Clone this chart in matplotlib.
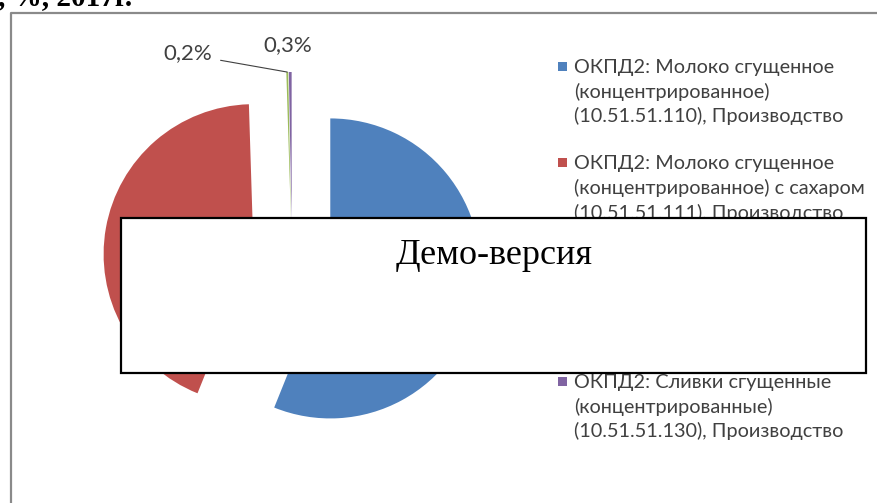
import matplotlib
matplotlib.use("Agg")
import matplotlib.pyplot as plt
from matplotlib.patches import Rectangle
import numpy as np

# shares, %, 2017
labels = [
    "ОКПД2: Молоко сгущенное\n(концентрированное)\n(10.51.51.110), Производство",
    "ОКПД2: Молоко сгущенное\n(концентрированное) с сахаром\n(10.51.51.111), Производство",
    "ОКПД2: Молоко сгущенное\n(концентрированное) без\nсахара (10.51.51.112),\nПроизводство",
    "ОКПД2: Сливки сгущенные\n(концентрированные)\n(10.51.51.130), Производство",
]
values = [56.1, 43.4, 0.2, 0.3]
value_labels = ["", "", "0,2%", "0,3%"]
colors = ["#4F81BD", "#C0504D", "#9BBB59", "#8064A2"]

W, H = 877, 503
fig = plt.figure(figsize=(W / 100, H / 100), dpi=100)

# pie axes in pixel units (y up)
ax = fig.add_axes([0, 0, 1, 1])
wedges, _ = ax.pie(values, colors=colors, startangle=90, counterclock=False,
                   center=(292, H - 261), radius=150,
                   explode=[39, 39, 39, 39], frame=True,
                   wedgeprops=dict(linewidth=0))
ax.axis("off")
ax.set_xlim(0, W)
ax.set_ylim(0, H)

txt_kw = dict(fontsize=16, color="#404040", family="Lato")
for i, w in enumerate(wedges):
    if not value_labels[i]:
        continue
    th = np.deg2rad((w.theta1 + w.theta2) / 2)
    tip = (w.center[0] + w.r * np.cos(th), w.center[1] + w.r * np.sin(th))
    if i == 2:
        ax.annotate(value_labels[i], xy=tip, xytext=(-75, 19), textcoords="offset pixels",
                    ha="right", va="center",
                    arrowprops=dict(arrowstyle="-", color="#404040", lw=0.8,
                                    connectionstyle="angle,angleA=0,angleB=170,rad=0",
                                    relpos=(1.0, 0.15), shrinkA=4, shrinkB=0),
                    **txt_kw)
    else:
        ax.annotate(value_labels[i], xy=tip, xytext=(-2, 27), textcoords="offset pixels",
                    ha="center", va="center", **txt_kw)

# overlay axes in image pixel units (y down)
ov = fig.add_axes([0, 0, 1, 1], zorder=5)
ov.set_xlim(0, W)
ov.set_ylim(H, 0)
ov.axis("off")
ov.patch.set_alpha(0)

# legend, square aligned with the first line of each entry
line_h = 25.5
y = 66
for lab, c in zip(labels, colors):
    ov.add_patch(Rectangle((558, y - 4.5), 9, 9, facecolor=c, edgecolor="none", zorder=2))
    ov.text(574, y - 7, lab, family="Lato", fontsize=14.3, color="#404040",
            ha="left", va="top", linespacing=1.44, zorder=2)
    y += line_h * lab.count("\n") + line_h + 20

ov.plot([11, 11, W], [H, 13, 13], color="#8a8a8a", lw=1.6, solid_capstyle="butt")
ov.text(-2, 5, ", %, 2017г.", family="Liberation Serif", weight="bold", fontsize=21,
        ha="left", va="baseline", color="black")

ov.add_patch(Rectangle((121, 218), 745, 155, facecolor="white", edgecolor="black",
                       lw=1.6, zorder=10))
ov.text(494, 256, "Демо-версия", family="Liberation Serif", fontsize=26,
        ha="center", va="center", color="black", zorder=11)

fig.savefig("out.png", dpi=100)
